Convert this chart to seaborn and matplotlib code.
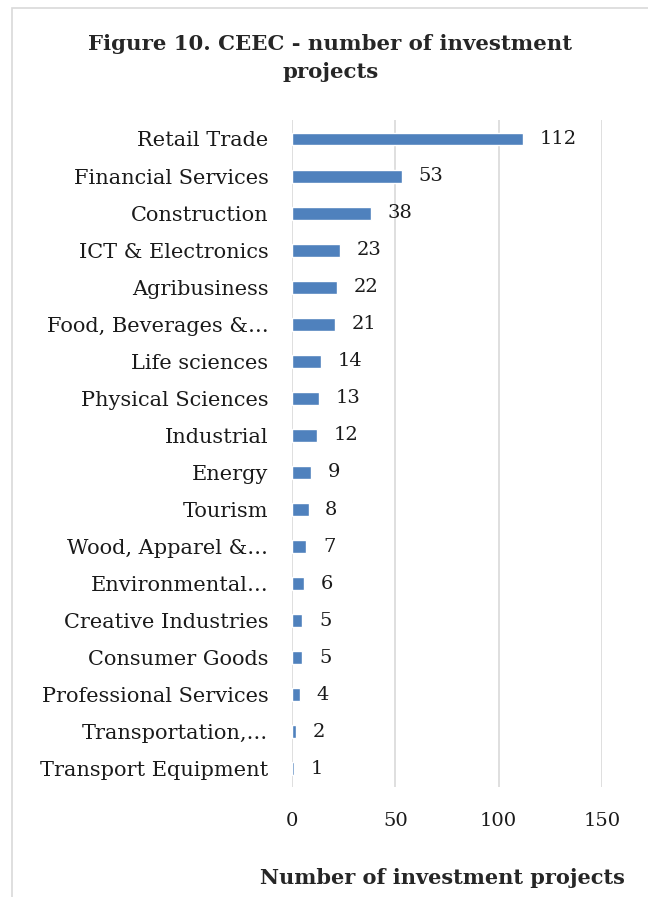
import matplotlib
matplotlib.use("Agg")
import matplotlib.pyplot as plt
import seaborn as sns
import pandas as pd
from matplotlib.patches import Rectangle

# Data
sectors = [
    "Retail Trade", "Financial Services", "Construction", "ICT & Electronics",
    "Agribusiness", "Food, Beverages &\u2026", "Life sciences", "Physical Sciences",
    "Industrial", "Energy", "Tourism", "Wood, Apparel &\u2026", "Environmental\u2026",
    "Creative Industries", "Consumer Goods", "Professional Services",
    "Transportation,\u2026", "Transport Equipment",
]
projects = [112, 53, 38, 23, 22, 21, 14, 13, 12, 9, 8, 7, 6, 5, 5, 4, 2, 1]
x_ticks = [0, 50, 100, 150]

df = pd.DataFrame({"sector": sectors, "projects": projects})

sns.set_style("white")
plt.rcParams["font.family"] = ["DejaVu Serif"]

fig = plt.figure(figsize=(6.48, 8.97), dpi=100)
ax = fig.add_axes([0.4506, 0.1221, 0.4784, 0.7436])

sns.barplot(data=df, x="projects", y="sector", orient="h", color="#4F81BD",
            width=0.35, saturation=1, ax=ax)

ax.bar_label(ax.containers[0], padding=12, fontsize=14, color="#1a1a1a")

ax.set_xlim(0, 150)
ax.set_xticks(x_ticks)
ax.xaxis.grid(True, color="#D9D9D9", linewidth=1.2)
ax.set_axisbelow(True)
for s in ax.spines.values():
    s.set_visible(False)
ax.tick_params(axis="x", length=0, labelsize=14, colors="#1a1a1a", pad=18)
ax.tick_params(axis="y", length=0, labelsize=15, colors="#1a1a1a", pad=17)
ax.set_ylabel("")
ax.set_xlabel("Number of investment projects", fontsize=15, fontweight="bold")
ax.xaxis.set_label_coords(0.484, -0.12)

fig.text(0.51, 0.935, "Figure 10. CEEC - number of investment\nprojects",
         ha="center", va="center", fontsize=15.3, fontweight="bold",
         linespacing=1.5)

# light frame of the chart area (cropped at right and bottom)
fig.patches.append(Rectangle((12 / 648, -0.05), 1.0, 1.0 - 8 / 897 + 0.05,
                             transform=fig.transFigure, fill=False,
                             edgecolor="#D9D9D9", linewidth=1.2))

fig.savefig("out.png", dpi=100)
